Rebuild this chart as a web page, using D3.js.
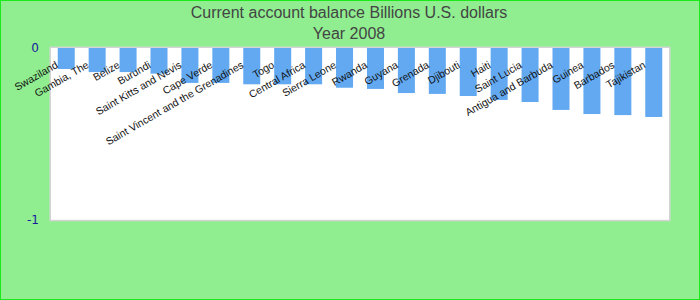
<!DOCTYPE html>
<html>
<head>
<meta charset="utf-8">
<script src="https://cdn.jsdelivr.net/npm/d3@7"></script>
<style>
  body { margin: 0; padding: 0; }
  svg { display: block; }
</style>
</head>
<body>
<div id="chart"></div>
<script>
const titleLines = ['Current account balance Billions U.S. dollars', 'Year 2008'];

const countries = [
    'Swaziland', 'Gambia, The', 'Belize', 'Burundi', 'Saint Kitts and Nevis',
    'Cape Verde', 'Saint Vincent and the Grenadines', 'Togo', 'Central Africa',
    'Sierra Leone', 'Rwanda', 'Guyana', 'Grenada', 'Djibouti', 'Haiti',
    'Saint Lucia', 'Antigua and Barbuda', 'Guinea', 'Barbados', 'Tajikistan'
];

const balance = [
    -0.122, -0.140, -0.140, -0.149, -0.203,
    -0.203, -0.211, -0.211, -0.211,
    -0.231, -0.238, -0.262, -0.267, -0.279, -0.302,
    -0.314, -0.360, -0.384, -0.390, -0.401
];

const yTicks = [0, -1];

const width = 700;
const height = 300;
const margin = { top: 48, right: 30, bottom: 80, left: 50 };

const svg = d3.select('#chart')
    .append('svg')
    .attr('width', width)
    .attr('height', height);

// background + outer border
svg.append('rect')
    .attr('x', 0.5).attr('y', 0.5)
    .attr('width', width - 1).attr('height', height - 1)
    .attr('fill', '#90ee90')
    .attr('stroke', '#1aea1a')
    .attr('stroke-width', 1);

const chartWidth = width - margin.left - margin.right;
const chartHeight = height - margin.top - margin.bottom;

const g = svg.append('g')
    .attr('transform', `translate(${margin.left},${margin.top})`);

// plot area with light grey frame
g.append('rect')
    .attr('x', 0.25).attr('y', -0.75)
    .attr('width', chartWidth - 0.5).attr('height', chartHeight + 1.25)
    .attr('fill', '#ffffff')
    .attr('stroke', '#d4d4d4')
    .attr('stroke-width', 1.5);

const x = d3.scaleBand()
    .domain(countries)
    .range([0, chartWidth])
    .paddingInner(0.45)
    .paddingOuter(0.25);

const y = d3.scaleLinear()
    .domain([0, -1])
    .range([0, chartHeight]);

g.selectAll('rect.bar')
    .data(countries)
    .enter()
    .append('rect')
    .attr('class', 'bar')
    .attr('x', d => x(d))
    .attr('y', y(0))
    .attr('width', x.bandwidth())
    .attr('height', (d, i) => y(balance[i]) - y(0))
    .attr('fill', '#62a9f2');

// category labels, rotated
g.selectAll('text.cat')
    .data(countries)
    .enter()
    .append('text')
    .attr('class', 'cat')
    .attr('transform', d => `translate(${x(d) + 1},${19}) rotate(-30)`)
    .attr('text-anchor', 'end')
    .attr('font-family', '"Liberation Sans", Arial, sans-serif')
    .attr('font-size', 10.5)
    .attr('fill', '#111')
    .text(d => d);

// y axis labels
const yAxis = d3.axisLeft(y)
    .tickValues(yTicks)
    .tickSize(0)
    .tickPadding(11)
    .tickFormat(d => String(d));

const ya = g.append('g').call(yAxis);
ya.select('.domain').remove();
ya.selectAll('text')
    .attr('font-family', '"DejaVu Sans", sans-serif')
    .attr('font-size', 12)
    .attr('fill', '#1a1a9a');

// title
svg.selectAll('text.title')
    .data(titleLines)
    .enter()
    .append('text')
    .attr('class', 'title')
    .attr('x', 349)
    .attr('y', (d, i) => 18 + i * 21)
    .attr('text-anchor', 'middle')
    .attr('font-family', '"Liberation Sans", Arial, sans-serif')
    .attr('font-size', 16)
    .attr('fill', '#444')
    .text(d => d);
</script>
</body>
</html>
